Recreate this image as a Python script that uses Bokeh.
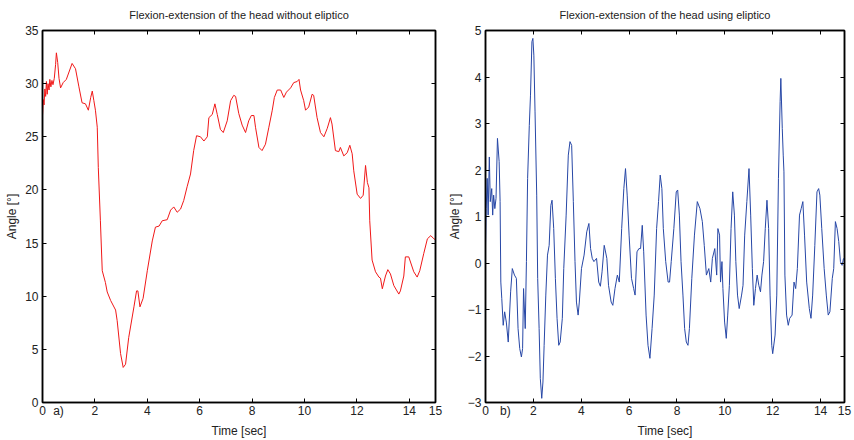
from bokeh.plotting import figure
from bokeh.layouts import row
from bokeh.models import LinearAxis, FixedTicker, Range1d
from bokeh.embed import file_html
from bokeh.resources import INLINE

# ---------------- data ----------------
left_title = "Flexion-extension of the head without eliptico"
right_title = "Flexion-extension of the head using eliptico"
x_label = "Time [sec]"
y_label = "Angle [°]"
x_ticks = [0, 2, 4, 6, 8, 10, 12, 14, 15]
left_y_ticks = [0, 5, 10, 15, 20, 25, 30, 35]
right_y_ticks = [-3, -2, -1, 0, 1, 2, 3, 4, 5]
panel_tags = ["a)", "b)"]
panel_tag_x = [0.61, 0.83]

left_t = [0.00, 0.03, 0.06, 0.09, 0.12, 0.15, 0.18, 0.21, 0.25, 0.28, 0.32, 0.36, 0.40,
          0.45, 0.50, 0.53, 0.58, 0.63, 0.69, 0.79, 0.91, 1.13, 1.26, 1.39, 1.51, 1.64,
          1.75, 1.84, 1.90, 1.96, 2.02, 2.09, 2.13, 2.21, 2.28, 2.40, 2.47, 2.60, 2.79,
          2.85, 2.98, 3.08, 3.17, 3.29, 3.49, 3.59, 3.64, 3.72, 3.84, 4.00, 4.19, 4.31,
          4.45, 4.57, 4.76, 4.89, 5.01, 5.14, 5.27, 5.39, 5.52, 5.65, 5.77, 5.88, 6.03,
          6.16, 6.29, 6.35, 6.48, 6.58, 6.67, 6.79, 6.90, 7.05, 7.18, 7.30, 7.37, 7.49,
          7.62, 7.75, 7.87, 7.97, 8.07, 8.13, 8.26, 8.38, 8.51, 8.64, 8.77, 8.85, 8.96,
          9.09, 9.21, 9.31, 9.47, 9.59, 9.72, 9.79, 9.85, 9.97, 10.04, 10.16, 10.29,
          10.35, 10.48, 10.61, 10.74, 10.87, 10.99, 11.05, 11.18, 11.31, 11.37, 11.50,
          11.63, 11.73, 11.82, 11.88, 12.01, 12.14, 12.24, 12.33, 12.40, 12.46, 12.49,
          12.58, 12.71, 12.84, 12.90, 12.97, 13.09, 13.18, 13.28, 13.41, 13.60, 13.66,
          13.79, 13.85, 13.98, 14.17, 14.30, 14.40, 14.55, 14.69, 14.82, 14.94, 15.00]
left_angle = [27.0, 28.5, 28.0, 29.5, 28.8, 30.2, 29.0, 30.0, 29.4, 30.4, 29.7, 30.3, 29.9,
              30.5, 31.8, 32.9, 32.0, 30.5, 29.6, 30.1, 30.4, 31.9, 31.4, 29.7, 28.2, 28.1,
              27.5, 28.7, 29.3, 28.4, 27.5, 25.9, 22.1, 17.1, 12.4, 11.3, 10.4, 9.6, 8.7,
              7.7, 4.6, 3.3, 3.6, 6.1, 9.0, 10.5, 10.5, 9.0, 9.8, 12.4, 15.2, 16.5,
              16.6, 17.1, 17.2, 18.1, 18.4, 17.9, 18.2, 19.0, 20.3, 21.5, 23.7, 25.1, 25.0,
              24.6, 25.0, 26.8, 27.1, 28.1, 27.1, 25.7, 25.4, 26.5, 28.4, 28.9, 28.8, 27.2,
              26.1, 25.4, 26.5, 27.0, 27.0, 25.9, 24.0, 23.7, 24.3, 25.9, 27.5, 28.7, 29.4,
              29.4, 28.7, 29.2, 29.6, 30.1, 30.2, 30.4, 29.4, 28.4, 27.5, 27.8, 29.0,
              28.9, 26.8, 25.4, 25.0, 25.8, 26.8, 26.2, 23.7, 23.6, 24.0, 23.2,
              23.5, 24.2, 23.4, 21.8, 19.6, 19.2, 19.5, 22.3, 20.7, 20.2, 17.1,
              13.4, 12.3, 11.8, 11.7, 10.7, 11.9, 12.5, 12.1, 11.0, 10.2, 10.5,
              11.9, 13.7, 13.7, 12.3, 11.8, 12.4, 14.0, 15.4, 15.7, 15.4, 15.3]

right_t = [0.00, 0.03, 0.07, 0.11, 0.16, 0.20, 0.26, 0.30, 0.34, 0.39, 0.44, 0.50, 0.57,
           0.61, 0.64, 0.68, 0.74, 0.80, 0.87, 0.95, 1.05, 1.12, 1.21, 1.29, 1.36, 1.43,
           1.50, 1.55, 1.59, 1.66, 1.71, 1.76, 1.83, 1.88, 1.94, 1.98, 2.02, 2.07, 2.14,
           2.18, 2.24, 2.29, 2.35, 2.40, 2.45, 2.52, 2.59, 2.66, 2.73, 2.78, 2.85, 2.92,
           2.99, 3.06, 3.12, 3.21, 3.27, 3.37, 3.46, 3.53, 3.60, 3.67, 3.74, 3.80, 3.87,
           3.92, 4.01, 4.12, 4.23, 4.32, 4.39, 4.46, 4.53, 4.64, 4.73, 4.80, 4.87, 4.96,
           5.07, 5.14, 5.25, 5.32, 5.41, 5.51, 5.59, 5.69, 5.78, 5.85, 5.92, 6.00, 6.10,
           6.19, 6.25, 6.33, 6.41, 6.48, 6.55, 6.61, 6.71, 6.79, 6.87, 6.96, 7.05, 7.15,
           7.23, 7.30, 7.37, 7.43, 7.53, 7.63, 7.69, 7.76, 7.87, 7.97, 8.03, 8.10, 8.17,
           8.25, 8.32, 8.39, 8.46, 8.52, 8.62, 8.73, 8.85, 8.96, 9.06, 9.14, 9.23, 9.33,
           9.41, 9.48, 9.58, 9.66, 9.71, 9.78, 9.82, 9.88, 9.92, 9.99, 10.06, 10.12,
           10.19, 10.26, 10.33, 10.40, 10.46, 10.53, 10.60, 10.70, 10.76, 10.83, 10.92,
           11.01, 11.08, 11.15, 11.21, 11.28, 11.35, 11.42, 11.49, 11.55, 11.62, 11.69,
           11.76, 11.83, 11.89, 11.96, 12.00, 12.10, 12.17, 12.24, 12.31, 12.34, 12.40,
           12.44, 12.47, 12.51, 12.58, 12.65, 12.71, 12.81, 12.89, 12.96, 13.03, 13.12,
           13.19, 13.26, 13.33, 13.42, 13.53, 13.60, 13.67, 13.76, 13.85, 13.92, 13.97,
           14.05, 14.15, 14.24, 14.32, 14.39, 14.49, 14.55, 14.62, 14.69, 14.76, 14.83,
           14.90, 14.96]
right_angle = [0.38, 1.17, 1.82, 1.03, 2.28, 1.32, 1.60, 1.03, 1.46, 1.17, 1.39, 2.68, 2.18,
               1.32, -0.41, -0.76, -1.34, -1.05, -1.27, -1.70, -0.62, -0.12, -0.26, -0.33, -1.41, -1.84,
               -2.02, -1.84, -0.55, -1.41, 0.03, 1.82, 2.96, 3.61, 4.76, 4.83, 4.47, 3.25, 1.46,
               -0.33, -1.41, -2.48, -2.91, -2.56, -1.77, -0.69, 0.17, 0.38, 1.24, 1.35, 0.74, -0.33,
               -1.19, -1.77, -1.70, -1.19, -0.12, 1.03, 2.32, 2.61, 2.53, 1.32, 0.03, -0.84, -1.12,
               -0.84, -0.12, 0.17, 0.67, 0.85, 0.31, 0.10, 0.03, 0.10, -0.41, -0.50, -0.19, 0.38,
               0.10, -0.48, -0.84, -0.91, -0.55, -0.26, -0.41, 0.74, 1.60, 2.03, 1.46, 0.60, -0.33,
               -0.55, -0.69, 0.24, 0.31, 0.31, 0.81, 0.24, -1.12, -1.77, -2.05, -1.41, -0.69, 0.74,
               1.32, 1.89, 1.60, 0.74, 0.03, -0.41, -0.41, 0.03, 0.74, 1.53, 1.57, 1.03, 0.03,
               -0.69, -1.41, -1.70, -1.77, -1.41, -0.33, 0.60, 1.32, 1.17, 0.89, 0.38, -0.26, -0.12,
               -0.41, 0.10, 0.31, -0.26, 0.74, 0.60, -0.41, 0.03, -0.55, -1.27, -1.62, -1.12,
               -0.48, 0.74, 1.53, 1.03, 0.03, -0.69, -0.98, -0.69, -0.48, 0.60, 1.32,
               2.03, 1.03, -0.12, -0.91, -0.55, -0.26, -0.48, -0.62, -0.26, 0.03, 0.74,
               1.35, 0.74, -0.69, -1.77, -1.95, -1.55, -0.69, 1.82, 3.47, 3.97, 2.89,
               2.32, 1.96, -0.26, -1.12, -1.34, -1.19, -1.12, -0.41, -0.55, -0.12, 1.03,
               1.17, 1.32, 0.60, -0.41, -0.98, -1.19, -0.69, 0.38, 1.53, 1.60, 1.46,
               0.74, -0.12, -0.69, -1.12, -1.05, -0.33, -0.12, 0.89, 0.74, 0.46, 0.03,
               -0.05, 0.10]

FONT = "Liberation Sans"


def tick_only_axis(ticks):
    return LinearAxis(ticker=FixedTicker(ticks=ticks), major_tick_in=4, major_tick_out=0,
                      minor_tick_line_color=None, major_tick_line_color="black",
                      major_label_overrides={t: "" for t in ticks},
                      major_label_text_font_size="1px",
                      major_label_standoff=0, axis_line_color="black", axis_line_width=1.5)


def make_fig(title, xs, ys, color, y_range, y_ticks, width, left, right, tag, tag_x):
    p = figure(width=width, height=440, output_backend="svg", toolbar_location=None,
               x_range=Range1d(0, 15), y_range=Range1d(*y_range),
               min_border_left=left, min_border_right=right,
               min_border_top=0, min_border_bottom=38)
    p.title.text = title
    p.title.align = "center"
    p.title.vertical_align = "top"
    p.title.text_font = FONT
    p.title.text_font_size = "11px"
    p.title.text_font_style = "normal"
    p.title.text_color = "#222222"
    p.title.standoff = 16
    p.grid.visible = False
    p.outline_line_color = "black"
    p.outline_line_width = 1.5
    p.line(xs, ys, line_color=color, line_width=1)

    for ax in p.xaxis + p.yaxis:
        ax.minor_tick_line_color = None
        ax.major_label_text_font = FONT
        ax.major_label_text_font_size = "12px"
        ax.major_label_text_color = "#222222"
        ax.axis_label_text_font = FONT
        ax.axis_label_text_font_size = "12px"
        ax.axis_label_text_font_style = "normal"
        ax.axis_label_text_color = "#222222"
        ax.axis_line_color = "black"
        ax.axis_line_width = 1.5
        ax.major_tick_line_color = "black"
        ax.major_tick_in = 4
        ax.major_tick_out = 0
        ax.major_label_standoff = 4
        ax.axis_label_standoff = 3
    p.yaxis.ticker = FixedTicker(ticks=y_ticks)
    p.yaxis.axis_label = y_label

    # bottom: inner tick marks on one axis, labels (with the panel tag) on the next
    main_x = p.xaxis[0]
    label_ticks = sorted(x_ticks + [tag_x])
    main_x.ticker = FixedTicker(ticks=label_ticks)
    main_x.major_label_overrides = {tag_x: tag}
    main_x.major_tick_in = 0
    main_x.major_label_standoff = 1
    main_x.axis_line_color = None
    main_x.axis_label = x_label
    bottom_ticks = tick_only_axis(x_ticks)
    p.below = [bottom_ticks, main_x]

    p.add_layout(tick_only_axis(x_ticks), "above")
    p.add_layout(tick_only_axis(y_ticks), "right")
    return p


p1 = make_fig(left_title, left_t, left_angle, "#f01818", (0, 35), left_y_ticks,
              444, 42, 9, panel_tags[0], panel_tag_x[0])
p2 = make_fig(right_title, right_t, right_angle, "#2747a6", (-3, 5), right_y_ticks,
              410, 34, 10, panel_tags[1], panel_tag_x[1])

p = row(p1, p2)
open("out.html", "w").write(file_html(p, INLINE))
